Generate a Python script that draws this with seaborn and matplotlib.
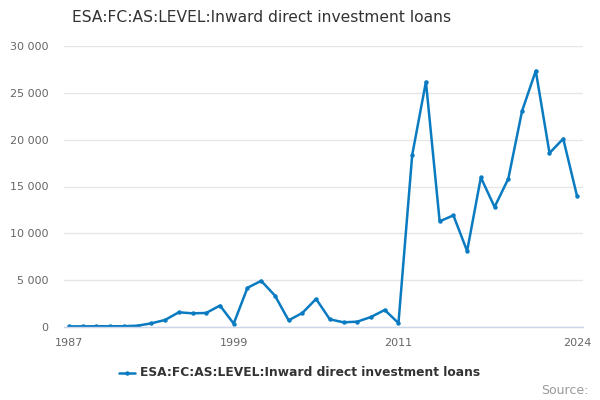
import matplotlib
matplotlib.use("Agg")
import matplotlib.pyplot as plt
import matplotlib.ticker as mticker
import seaborn as sns
import pandas as pd

years = list(range(1987, 2025))
values = [70, 70, 80, 80, 80, 140, 390, 750, 1570, 1460, 1500, 2290, 360,
          4180, 4930, 3360, 710, 1500, 3000, 820, 500, 570, 1070, 1820, 420,
          18360, 26180, 11280, 11920, 8110, 15970, 12810, 15830, 23050,
          27350, 18570, 20100, 14010]
series_name = "ESA:FC:AS:LEVEL:Inward direct investment loans"
title_text = "ESA:FC:AS:LEVEL:Inward direct investment loans"
source_text = "Source:"
y_ticks = [0, 5000, 10000, 15000, 20000, 25000, 30000]
x_tick_pos = [1987, 1990, 1993, 1996, 1999, 2002, 2005, 2008, 2011, 2014, 2017, 2020, 2024]
x_tick_labels = {1987: "1987", 1999: "1999", 2011: "2011", 2024: "2024"}

df = pd.DataFrame({"year": years, "value": values, "series": series_name})

sns.set_style("white")
plt.rcParams['font.family'] = ['DejaVu Sans']

fig = plt.figure(figsize=(6, 4), dpi=100)
ax = fig.add_axes([64/600, 1-327/400, (583-64)/600, (327-46)/400])

line_color = "#0a7bc1"
sns.lineplot(data=df, x="year", y="value", ax=ax, color=line_color,
             linewidth=1.8, marker="o", markersize=3.2, markeredgewidth=0,
             legend=False)

ax.set_ylim(0, 30000)
ax.set_xlim(1986.64, 2024.44)
ax.set_yticks(y_ticks)
ax.yaxis.set_major_formatter(mticker.FuncFormatter(lambda v, p: f"{int(v):,}".replace(",", " ")))
ax.set_xticks(x_tick_pos)
ax.set_xticklabels([x_tick_labels.get(x, "") for x in x_tick_pos])
ax.grid(axis="y", color="#e6e6e6", linewidth=1)
ax.set_axisbelow(True)
for s in ["top", "right", "left"]:
    ax.spines[s].set_visible(False)
ax.spines["bottom"].set_color("#ccd6eb")
ax.spines["bottom"].set_linewidth(1)
ax.tick_params(axis="x", length=9, width=1, color="#ccd6eb", labelsize=8, labelcolor="#666666", pad=-1)
ax.tick_params(axis="y", length=0, labelsize=8, labelcolor="#666666", pad=11)
ax.set_xlabel("")
ax.set_ylabel("")

fig.text(262/600, 1-18/400, title_text, ha="center", va="center", fontsize=11.2, color="#333333")

# legend
lx0, lx1, ly = 119/600, 135/600, 1-373/400
fig.add_artist(plt.Line2D([lx0, lx1], [ly, ly], color=line_color, linewidth=1.8,
                          transform=fig.transFigure))
fig.add_artist(plt.Line2D([(lx0+lx1)/2], [ly], color=line_color, marker="o", markersize=3.2,
                          markeredgewidth=0, linestyle="none", transform=fig.transFigure))
fig.text(140/600, ly, series_name, ha="left", va="center", fontsize=8.8, fontweight="bold", color="#333333")
fig.text(589/600, 1-391/400, source_text, ha="right", va="center", fontsize=9, color="#999999")

fig.savefig("out.png", dpi=100)
